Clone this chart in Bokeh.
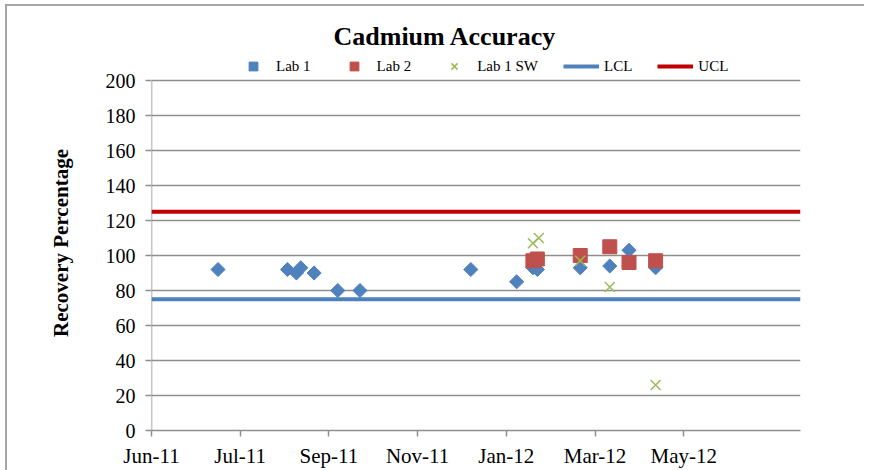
from datetime import datetime
import pandas as pd
from bokeh.plotting import figure
from bokeh.models import (Range1d, FixedTicker, DatetimeTickFormatter, Legend,
                          LegendItem)
from bokeh.embed import file_html
from bokeh.resources import INLINE

# ---------------- data ----------------
lab1_dates = ["2011-07-16", "2011-09-01", "2011-09-07", "2011-09-10", "2011-09-19",
              "2011-10-05", "2011-10-20", "2012-01-03", "2012-02-03", "2012-02-14",
              "2012-02-17", "2012-03-17", "2012-04-06", "2012-04-19", "2012-05-07"]
lab1_values = [92, 92, 90, 93, 90, 80, 80, 92, 85, 93, 92, 93, 94, 103, 93]

lab2_dates = ["2012-02-14", "2012-02-17", "2012-03-17", "2012-04-06", "2012-04-19",
              "2012-05-07"]
lab2_values = [97, 98, 100, 105, 96, 97]

lab1sw_dates = ["2012-02-14", "2012-02-18", "2012-03-17", "2012-04-06", "2012-05-07"]
lab1sw_values = [107, 110, 97, 82, 26]

limit_dates = ["2011-06-01", "2012-08-13"]
lcl_values = [75, 75]
ucl_values = [125, 125]

x_tick_dates = ["2011-06-01", "2011-07-31", "2011-09-29", "2011-11-28",
                "2012-01-27", "2012-03-27", "2012-05-26"]
y_ticks = [0, 20, 40, 60, 80, 100, 120, 140, 160, 180, 200]

title_text = "Cadmium Accuracy"
y_label = "Recovery Percentage"

# ---------------- helpers ----------------
def to_dt(lst):
    return [pd.Timestamp(d).to_pydatetime() for d in lst]

def to_ms(lst):
    return [pd.Timestamp(d).value / 1e6 for d in lst]

FONT = "Liberation Serif"
AXIS_GRAY = "#8e8e8e"
Y_VIEW_MAX = 214.3   # room above the 200 gridline for the legend row

p = figure(frame_width=649, frame_height=375, output_backend="svg",
           toolbar_location=None, x_axis_type="datetime",
           min_border_left=144, min_border_right=64, min_border_top=49,
           min_border_bottom=38, title=title_text)
p.styles = {"margin-left": "5px", "margin-top": "4px",
            "border-left": "2px solid #a6a6a6", "border-top": "2px solid #a6a6a6"}
p.x_range = Range1d(to_dt(limit_dates)[0], to_dt(limit_dates)[1])
p.y_range = Range1d(y_ticks[0], Y_VIEW_MAX)

p.title.align = "left"
p.title.offset = 182
p.title.text_font = FONT
p.title.text_font_size = "26px"
p.title.text_font_style = "bold"
p.title.text_color = "black"

p.outline_line_color = None
p.background_fill_color = "white"
p.border_fill_color = "white"

# grid
p.xgrid.grid_line_color = None
p.ygrid.ticker = FixedTicker(ticks=y_ticks)
p.ygrid.grid_line_color = AXIS_GRAY
p.ygrid.grid_line_width = 1.5

# axes
p.xaxis.ticker = FixedTicker(ticks=to_ms(x_tick_dates))
p.xaxis.formatter = DatetimeTickFormatter(days="%b-%y", months="%b-%y",
                                          years="%b-%y", hours="%b-%y")
p.yaxis.ticker = FixedTicker(ticks=y_ticks)
for ax in (p.xaxis[0], p.yaxis[0]):
    ax.axis_line_color = AXIS_GRAY
    ax.axis_line_width = 1.5
    ax.major_tick_line_color = AXIS_GRAY
    ax.major_tick_line_width = 1.5
    ax.major_tick_in = 0
    ax.major_tick_out = 6
    ax.minor_tick_line_color = None
    ax.major_label_text_font = FONT
    ax.major_label_text_color = "black"
p.yaxis.axis_line_color = None
p.xaxis.major_label_text_font_size = "21px"
p.xaxis.major_label_standoff = 7
p.yaxis.major_label_text_font_size = "20px"
p.yaxis.major_label_standoff = 10
p.yaxis.axis_label = y_label
p.yaxis.axis_label_text_font = FONT
p.yaxis.axis_label_text_font_size = "21px"
p.yaxis.axis_label_text_font_style = "bold"
p.yaxis.axis_label_text_color = "black"
p.yaxis.axis_label_standoff = 30

# vertical axis line only over the value range (0..200)
x0 = to_dt(limit_dates)[0]
p.segment(x0=[x0], y0=[y_ticks[0]], x1=[x0], y1=[y_ticks[-1]],
          line_color=AXIS_GRAY, line_width=1.5)

# glyphs
r_lcl = p.line(to_dt(limit_dates), lcl_values, line_color="#4F81BD", line_width=4)
r_ucl = p.line(to_dt(limit_dates), ucl_values, line_color="#C00000", line_width=4)
r1 = p.scatter(to_dt(lab1_dates), lab1_values, marker="square", angle=0.785398,
               size=10, fill_color="#4F81BD", line_color="#4F81BD")
r2 = p.scatter(to_dt(lab2_dates), lab2_values, marker="square", size=14,
               fill_color="#C0504D", line_color="#C0504D")
r3 = p.scatter(to_dt(lab1sw_dates), lab1sw_values, marker="x", size=14,
               line_color="#9BBB59", line_width=1.5)

legend = Legend(items=[LegendItem(label="Lab 1", renderers=[r1]),
                       LegendItem(label="Lab 2", renderers=[r2]),
                       LegendItem(label="Lab 1 SW", renderers=[r3]),
                       LegendItem(label="LCL", renderers=[r_lcl]),
                       LegendItem(label="UCL", renderers=[r_ucl])],
                orientation="horizontal", location=(84, 353),
                border_line_color=None, background_fill_alpha=0,
                label_text_font=FONT, label_text_font_size="15px",
                label_text_color="black",
                glyph_width=36, glyph_height=22, spacing=25, label_standoff=5,
                padding=0, margin=0)
p.add_layout(legend, "center")

open("out.html", "w").write(file_html(p, INLINE))
